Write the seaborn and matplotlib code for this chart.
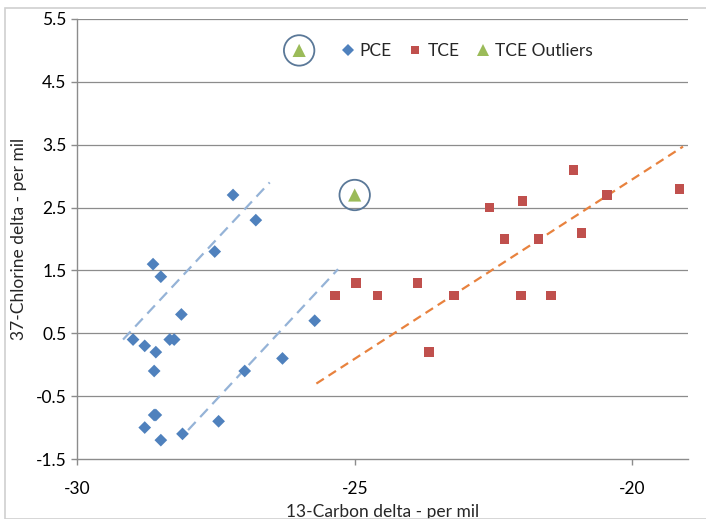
import numpy as np
import pandas as pd
import matplotlib
matplotlib.use("Agg")
import matplotlib.pyplot as plt
import seaborn as sns
from matplotlib.patches import Rectangle

# data (per mil)
pce_x = [-28.63, -28.49, -28.12, -28.99, -28.78, -28.58, -28.33, -28.25, -28.61, -28.61,
         -28.58, -28.78, -28.49, -28.10, -27.45, -26.98, -26.30, -25.72, -27.52, -27.19, -26.78]
pce_y = [1.6, 1.4, 0.8, 0.4, 0.3, 0.2, 0.4, 0.4, -0.1, -0.8,
         -0.8, -1.0, -1.2, -1.1, -0.9, -0.1, 0.1, 0.7, 1.8, 2.7, 2.3]

tce_x = [-22.57, -21.98, -21.06, -20.46, -19.15, -22.30, -21.69, -20.92,
         -24.98, -23.87, -24.59, -23.21, -22.01, -21.47, -23.66, -25.36]
tce_y = [2.5, 2.6, 3.1, 2.7, 2.8, 2.0, 2.0, 2.1,
         1.3, 1.3, 1.1, 1.1, 1.1, 1.1, 0.2, 1.1]

out_x = [-26.0, -25.0]
out_y = [5.0, 2.7]

# hand-drawn dashed guide lines (x0, x1), (y0, y1)
pce_line1_x = [-29.17, -26.53]
pce_line1_y = [0.4, 2.9]
pce_line2_x = [-28.0, -25.30]
pce_line2_y = [-1.04, 1.52]
tce_line_x = [-25.69, -19.09]
tce_line_y = [-0.3, 3.47]

series = ["PCE", "TCE", "TCE Outliers"]
x_ticks = [-30, -25, -20]
y_ticks = [-1.5, -0.5, 0.5, 1.5, 2.5, 3.5, 4.5, 5.5]

df = pd.DataFrame({
    "x": pce_x + tce_x + out_x,
    "y": pce_y + tce_y + out_y,
    "series": ["PCE"] * len(pce_x) + ["TCE"] * len(tce_x) + ["TCE Outliers"] * len(out_x),
})

sns.set_theme(style="white")
plt.rcParams["font.family"] = ["Lato", "DejaVu Sans"]

fig = plt.figure(figsize=(7.06, 5.19), dpi=100)
ax = fig.add_axes([0.109, 0.1156, 0.8655, 0.8478])

# outer chart border
fig.patches.append(Rectangle((5 / 706, 0), 1.2, 1 - 8 / 519, transform=fig.transFigure,
                             fill=False, edgecolor="#d0d0d0", linewidth=1.2, zorder=0))

for yv in y_ticks[1:]:
    ax.axhline(yv, color="#8c8c8c", linewidth=0.9, zorder=0)

ax.plot(pce_line1_x, pce_line1_y, color="#95b3d7", linestyle=(0, (5, 3)), linewidth=1.6, zorder=1)
ax.plot(pce_line2_x, pce_line2_y, color="#95b3d7", linestyle=(0, (5, 3)), linewidth=1.6, zorder=1)
ax.plot(tce_line_x, tce_line_y, color="#e8823e", linestyle=(0, (4, 2.5)), linewidth=1.6, zorder=1)

palette = {"PCE": "#4f81bd", "TCE": "#c0504d", "TCE Outliers": "#9bbb59"}
markers = {"PCE": "D", "TCE": "s", "TCE Outliers": "^"}
sizes = {"PCE": 42, "TCE": 48, "TCE Outliers": 90}
sns.scatterplot(data=df, x="x", y="y", hue="series", style="series", size="series",
                hue_order=series, style_order=series, size_order=series, sizes=sizes,
                palette=palette, markers=markers, linewidth=0, ax=ax, zorder=3)

# circles around the outliers
ax.scatter(out_x, out_y, s=480, facecolors="none", edgecolors="#5a7898", linewidths=1.3, zorder=4)

ax.set_xlim(-30, -19)
ax.set_ylim(-1.5, 5.5)
ax.set_xticks(x_ticks)
ax.set_yticks(y_ticks)
ax.set_xticklabels([str(v) for v in x_ticks])
ax.set_yticklabels([f"{v:.1f}" for v in y_ticks])
ax.tick_params(axis="both", labelsize=12.5, colors="#8c8c8c", labelcolor="black",
               length=4, width=1, direction="out", bottom=True, left=True)
ax.tick_params(axis="x", pad=12)
for side in ["top", "right"]:
    ax.spines[side].set_visible(False)
for side in ["left", "bottom"]:
    ax.spines[side].set_color("#8c8c8c")
    ax.spines[side].set_linewidth(1)

ax.set_xlabel("13-Carbon delta - per mil", fontsize=12.5, labelpad=5)
ax.set_ylabel("37-Chlorine delta - per mil", fontsize=12.5, labelpad=6)

sns.move_legend(ax, "center", bbox_to_anchor=(0.638, 0.927), ncol=3, frameon=False,
                title=None, fontsize=12.5, handletextpad=0.3, columnspacing=0.95,
                handlelength=0.8, markerscale=0.9)

fig.savefig("out.png", dpi=100)
